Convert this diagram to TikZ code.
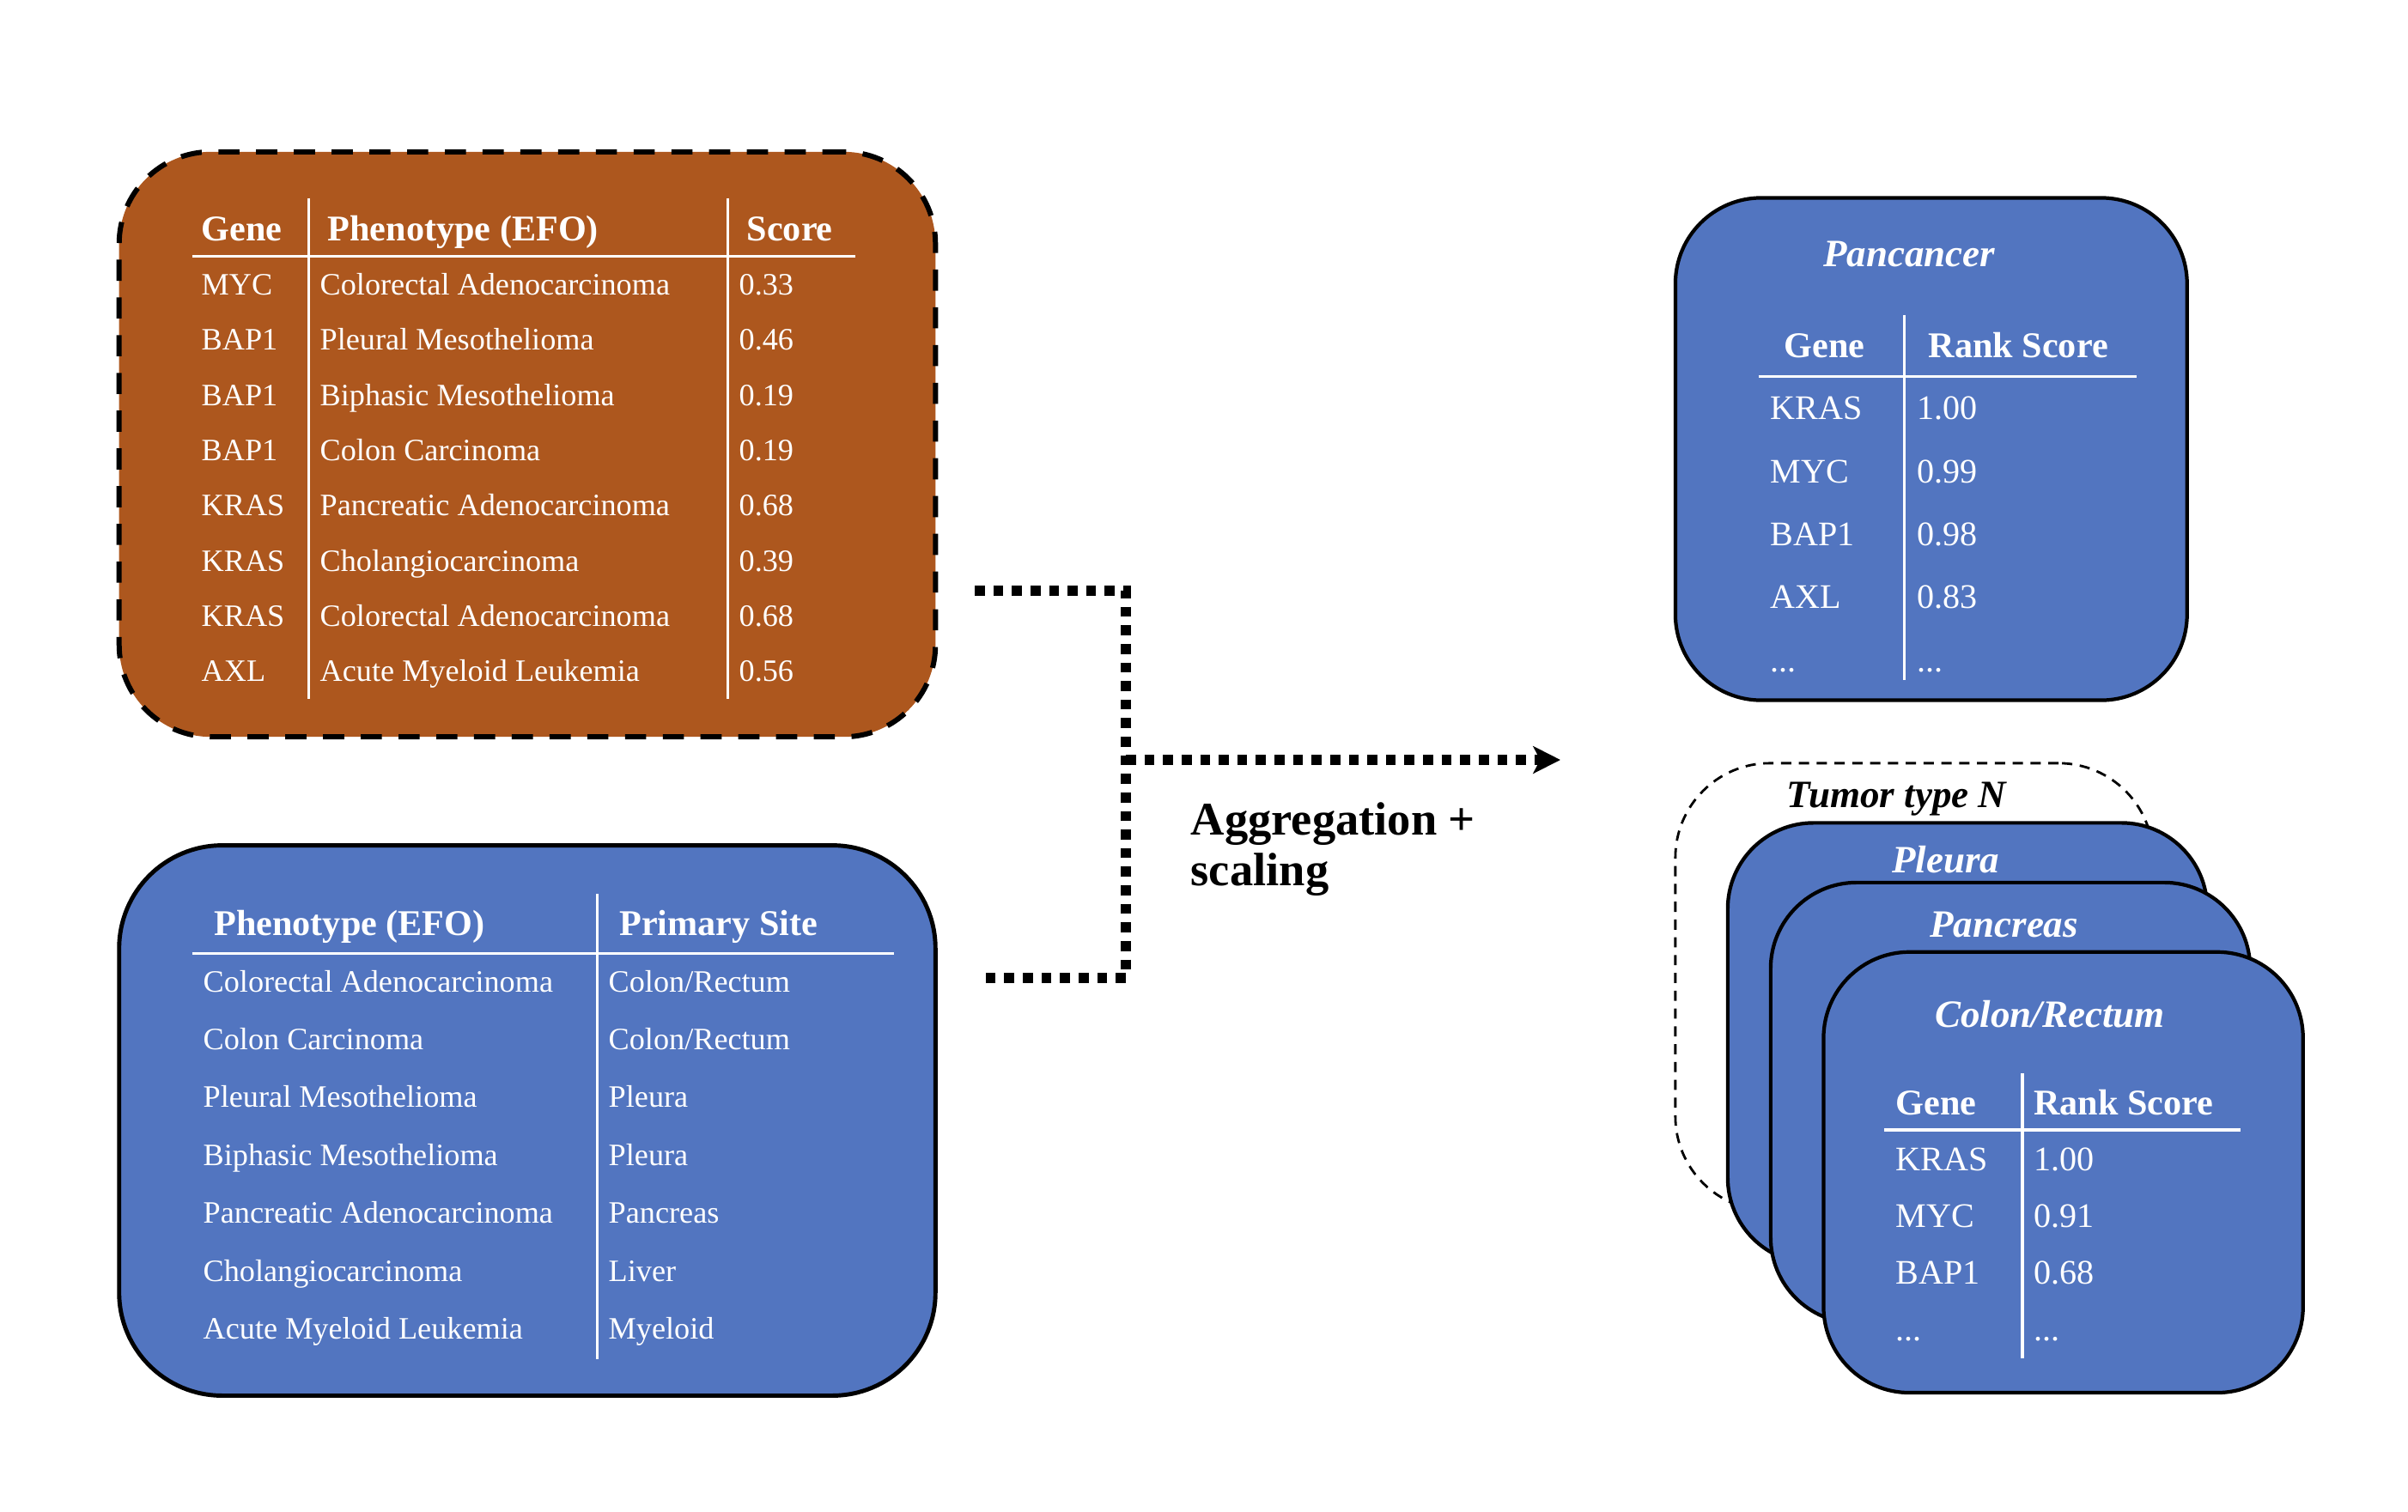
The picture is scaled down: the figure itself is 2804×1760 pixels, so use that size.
\documentclass[tikz,border=0pt]{standalone}
\usepackage{fontspec}
\setmainfont{Liberation Serif}
\usetikzlibrary{arrows.meta}

\definecolor{marrone}{HTML}{AD571E}
\definecolor{blu}{HTML}{5275C0}
\newcommand{\puntini}{...}

\begin{document}
\begin{tikzpicture}[
    x=0.01cm, y=-0.01cm,
    riquadro/.style={rectangle,draw,line width=1.2pt,fill=blu,
                     inner sep=0pt,minimum width=5.58cm,minimum height=5.13cm,
                     rounded corners=1cm},
    cella/.style={anchor=west,inner sep=0pt,text=white,
                  text height=7pt,text depth=0pt,
                  font=\fontsize{10.3}{12}\selectfont},
    intest/.style={cella,text height=8pt,font=\fontsize{12}{14}\selectfont\bfseries},
    cellad/.style={cella,text height=7.5pt,font=\fontsize{11.4}{13}\selectfont},
    titolo/.style={inner sep=0pt,text=white,text height=8.5pt,text depth=0pt,
                   font=\fontsize{12.8}{15}\selectfont\bfseries\itshape},
    riga/.style={draw=white,line width=1pt},
    freccia/.style={line width=3.3pt,dash pattern=on 3.3pt off 2.85pt}]

  \useasboundingbox (0,0) rectangle (2804,1760);

  % --- tabella dei punteggi (marrone, tratteggiata) ---
  \node[riquadro,fill=marrone,line width=1.7pt,dash pattern=on 7pt off 5.5pt,
        minimum width=9.5cm,minimum height=6.81cm,rounded corners=1.07cm]
        (punteggi) at (614,517.5) {};
  \draw[riga] (223.5,298.6) -- (996,298.6);
  \draw[riga] (359.5,230.7) -- (359.5,813.7);
  \draw[riga] (847.6,230.7) -- (847.6,813.7);
  \node[intest] (mhg) at (234,266.5) {Gene};
  \node[intest] (mhf) at (381,266.5) {Phenotype (EFO)};
  \node[intest] (mhs) at (869,266.5) {Score};
  \foreach \i/\g/\f/\s in {0/MYC/Colorectal Adenocarcinoma/0.33,
                           1/BAP1/Pleural Mesothelioma/0.46,
                           2/BAP1/Biphasic Mesothelioma/0.19,
                           3/BAP1/Colon Carcinoma/0.19,
                           4/KRAS/Pancreatic Adenocarcinoma/0.68,
                           5/KRAS/Cholangiocarcinoma/0.39,
                           6/KRAS/Colorectal Adenocarcinoma/0.68,
                           7/AXL/Acute Myeloid Leukemia/0.56}{
    \node[cella] (mg\i) at (234,331+\i*64.37) {\g};
    \node[cella] (mf\i) at (372,331+\i*64.37) {\f};
    \node[cella] (ms\i) at (860,331+\i*64.37) {\s};
  }

  % --- tabella fenotipo -> sede primaria ---
  \node[riquadro,line width=1.4pt,minimum width=9.5cm,minimum height=6.405cm,
        rounded corners=1.2cm] (sedi) at (614,1305) {};
  \draw[riga] (223.5,1110.5) -- (1041,1110.5);
  \draw[riga] (695.6,1041) -- (695.6,1582.6);
  \node[intest] (bhf) at (248.6,1075) {Phenotype (EFO)};
  \node[intest] (bhs) at (720.7,1075) {Primary Site};
  \foreach \i/\f/\s in {0/Colorectal Adenocarcinoma/{Colon/Rectum},
                        1/Colon Carcinoma/{Colon/Rectum},
                        2/Pleural Mesothelioma/Pleura,
                        3/Biphasic Mesothelioma/Pleura,
                        4/Pancreatic Adenocarcinoma/Pancreas,
                        5/Cholangiocarcinoma/Liver,
                        6/Acute Myeloid Leukemia/Myeloid}{
    \node[cella] (bf\i) at (236,1142.7+\i*67.4) {\f};
    \node[cella] (bs\i) at (708,1142.7+\i*67.4) {\s};
  }

  % --- collegamenti ---
  \coordinate (uscitaA) at (1135,688);
  \coordinate (uscitaB) at (1139,1139);
  \coordinate (gomito) at (1311,885);
  \coordinate (arrivo) at (1817,885);
  \draw[freccia] (uscitaA) -| (gomito) |- (uscitaB);
  \draw[freccia,-{Stealth[length=9pt,width=9pt,inset=2.3pt]}] (gomito) -- (arrivo);
  \node[anchor=west,inner sep=0pt,align=left,
        font=\fontsize{15.5}{16.8}\selectfont\bfseries]
        (passo) at (1386,989) {Aggregation +\\scaling};

  % --- classifica pancancer ---
  \node[riquadro,minimum width=5.955cm,minimum height=5.848cm]
        (pancancer) at (2248.8,523) {};
  \node[titolo] (tpan) at (2223,296) {Pancancer};
  \draw[riga] (2047.6,438.5) -- (2487.5,438.5);
  \draw[riga] (2217.5,366.6) -- (2217.5,792);
  \node[intest] (phg) at (2077,402) {Gene};
  \node[intest] (phs) at (2245,402) {Rank Score};
  \foreach \i/\g/\s in {0/KRAS/1.00, 1/MYC/0.99, 2/BAP1/0.98,
                        3/AXL/0.83, 4/\puntini/\puntini}{
    \node[cellad] (pg\i) at (2061,475.7+\i*73.3) {\g};
    \node[cellad] (ps\i) at (2232,475.7+\i*73.3) {\s};
  }

  % --- pila per tipo di tumore ---
  \node[riquadro,fill=none,line width=0.8pt,dash pattern=on 3.4pt off 2.5pt,
        minimum width=5.56cm,minimum height=5.21cm,rounded corners=1.1cm]
        (tumore) at (2229,1149.5) {};
  \node[titolo,text=black] (ttum) at (2208.5,926) {Tumor type N};
  \node[riquadro] (pleura) at (2291,1215) {};
  \node[titolo] (tple) at (2265.7,1001.5) {Pleura};
  \node[riquadro] (pancreas) at (2341,1284.5) {};
  \node[titolo] (tpnc) at (2333.7,1076.5) {Pancreas};
  \node[riquadro] (colon) at (2402.6,1365.4) {};
  \node[titolo] (tcol) at (2387,1182) {Colon/Rectum};
  \draw[riga] (2194,1316) -- (2609,1316);
  \draw[riga] (2355,1250) -- (2355,1581.7);
  \node[intest] (chg) at (2207,1284) {Gene};
  \node[intest] (chs) at (2367.6,1284) {Rank Score};
  \foreach \i/\g/\s in {0/KRAS/1.00, 1/MYC/0.91, 2/BAP1/0.68, 3/\puntini/\puntini}{
    \node[cellad] (cg\i) at (2206.7,1350+\i*66.2) {\g};
    \node[cellad] (cs\i) at (2367.6,1350+\i*66.2) {\s};
  }

\end{tikzpicture}
\end{document}
